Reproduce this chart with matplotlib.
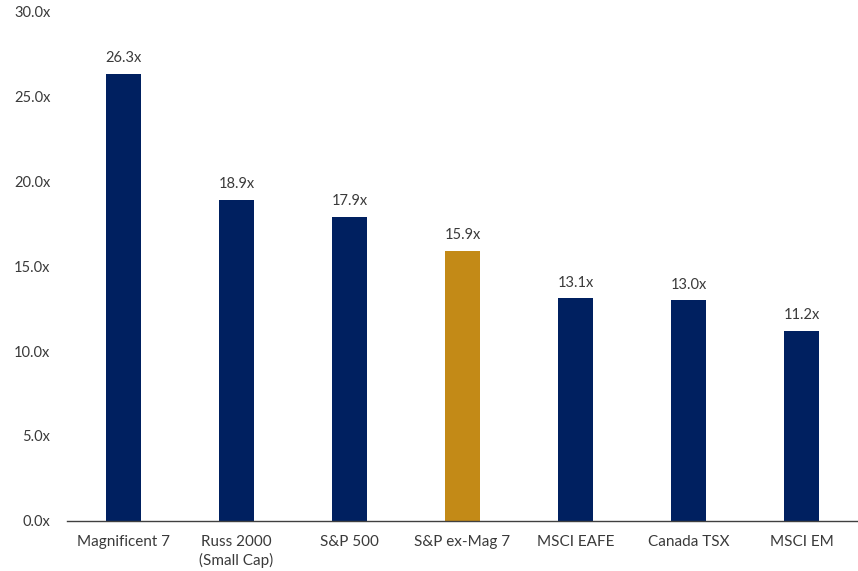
import matplotlib
matplotlib.use("Agg")
import matplotlib.pyplot as plt

categories = ["Magnificent 7", "Russ 2000\n(Small Cap)", "S&P 500", "S&P ex-Mag 7",
              "MSCI EAFE", "Canada TSX", "MSCI EM"]
values = [26.3, 18.9, 17.9, 15.9, 13.1, 13.0, 11.2]
highlight = "S&P ex-Mag 7"
yticks = [0, 5, 10, 15, 20, 25, 30]

navy = "#002060"
gold = "#C38A17"
text_col = "#3A3A3A"

plt.rcParams['font.family'] = ['Lato', 'DejaVu Sans']

fig = plt.figure(figsize=(8.58, 5.71), dpi=100)
ax = fig.add_axes([0.078, 0.0876, 0.922, 0.893])

colors = [gold if c == highlight else navy for c in categories]
x = list(range(len(categories)))
bars = ax.bar(x, values, width=0.31, color=colors, zorder=2)

for xi, v in zip(x, values):
    ax.text(xi, v + 0.5, f"{v:.1f}x", ha="center", va="bottom", fontsize=10.5, color=text_col)

ax.set_xlim(-0.5, len(categories) - 0.5)
ax.set_ylim(0, 30)
ax.set_yticks(yticks)
ax.set_yticklabels([f"{t:.1f}x" for t in yticks], fontsize=10.5, color=text_col)
ax.set_xticks(x)
ax.set_xticklabels(categories, fontsize=11, color=text_col, linespacing=1.3)

for s in ["top", "right", "left"]:
    ax.spines[s].set_visible(False)
ax.spines["bottom"].set_color("#404040")
ax.spines["bottom"].set_linewidth(1.0)
ax.tick_params(axis="both", length=0)
ax.tick_params(axis="y", pad=12)
ax.tick_params(axis="x", pad=10)

fig.savefig("out.png", dpi=100)
